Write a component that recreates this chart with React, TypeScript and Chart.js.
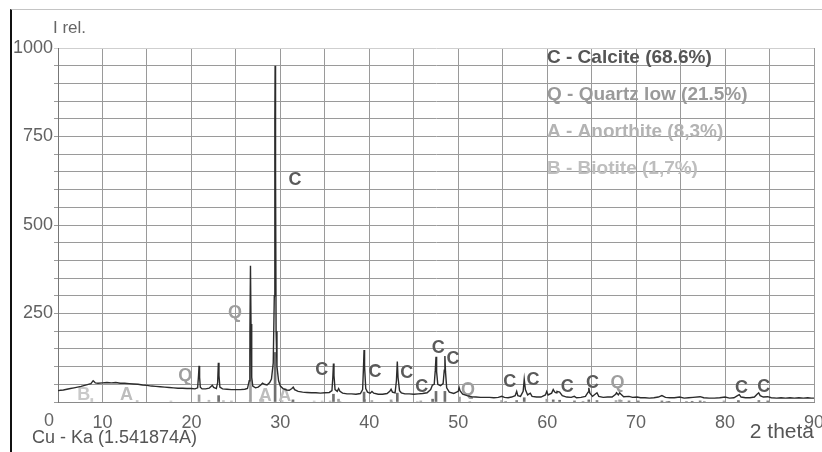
import React, { useEffect, useRef } from "react";
import { Chart, registerables } from "chart.js";

Chart.register(...registerables);

// Measured diffractogram: [2 theta, I rel.]
const pattern: [number, number][] = [
  [5.0, 32], [5.3, 33], [5.6, 34], [6.0, 36], [6.4, 38], [6.8, 40], [7.2, 42], [7.6, 44], [8.0, 47],
  [8.4, 50], [8.7, 52], [8.85, 57], [8.95, 60], [9.05, 58], [9.2, 54], [9.5, 53], [10.0, 54], [10.5, 55],
  [11.0, 54], [11.5, 55], [12.0, 53], [12.5, 53], [13.0, 52], [13.5, 51], [14.0, 50], [14.5, 48], [15.0, 47],
  [15.5, 45], [16.0, 44], [16.5, 43], [17.0, 42], [17.5, 41], [18.0, 40], [18.5, 39], [19.0, 39], [19.5, 38],
  [20.0, 38], [20.4, 37], [20.7, 40], [20.8, 75], [20.86, 102], [20.92, 70], [21.0, 42], [21.2, 37], [21.6, 37],
  [22.0, 39], [22.2, 44], [22.35, 47], [22.5, 41], [22.8, 38], [22.95, 55], [23.03, 111], [23.1, 75], [23.2, 42],
  [23.5, 37], [24.0, 36], [24.5, 35], [25.0, 35], [25.5, 35], [26.0, 36], [26.3, 38], [26.5, 60], [26.58, 200],
  [26.64, 385], [26.7, 220], [26.78, 70], [26.9, 45], [27.2, 40], [27.5, 42], [27.8, 48], [28.0, 53], [28.2, 50],
  [28.5, 48], [28.8, 55], [29.0, 65], [29.2, 110], [29.32, 300], [29.38, 800], [29.41, 950], [29.46, 650],
  [29.52, 200], [29.62, 100], [29.8, 60], [30.0, 45], [30.3, 38], [30.7, 34], [31.0, 33], [31.3, 38], [31.45, 42],
  [31.6, 35], [32.0, 30], [32.5, 28], [33.0, 27], [33.5, 26], [34.0, 26], [34.5, 25], [35.0, 26], [35.5, 27],
  [35.8, 32], [35.9, 70], [35.97, 109], [36.03, 75], [36.15, 35], [36.4, 30], [36.55, 38], [36.7, 30], [37.0, 25],
  [37.5, 23], [38.0, 23], [38.5, 22], [39.0, 24], [39.25, 35], [39.35, 100], [39.41, 147], [39.47, 100], [39.6, 38],
  [39.8, 28], [40.1, 25], [40.3, 30], [40.5, 25], [41.0, 22], [41.5, 22], [42.0, 24], [42.3, 30], [42.45, 36],
  [42.6, 28], [42.9, 26], [43.05, 60], [43.15, 114], [43.23, 70], [43.4, 32], [43.6, 26], [44.0, 23], [44.5, 23],
  [45.0, 22], [45.5, 23], [46.0, 24], [46.5, 26], [46.9, 35], [47.1, 48], [47.3, 50], [47.42, 90], [47.5, 128],
  [47.57, 85], [47.7, 50], [48.0, 46], [48.3, 52], [48.43, 90], [48.5, 130], [48.57, 85], [48.7, 40], [49.0, 28],
  [49.5, 24], [50.0, 30], [50.1, 41], [50.2, 32], [50.5, 22], [51.0, 18], [51.5, 15], [52.0, 14], [52.5, 13],
  [53.0, 13], [53.5, 13], [54.0, 12], [54.5, 13], [54.9, 16], [55.2, 13], [55.6, 12], [56.0, 14], [56.4, 18],
  [56.57, 30], [56.7, 18], [57.0, 16], [57.3, 30], [57.42, 64], [57.55, 35], [57.8, 20], [58.1, 25], [58.3, 16],
  [58.8, 14], [59.3, 14], [59.8, 20], [59.95, 30], [60.1, 20], [60.5, 25], [60.68, 35], [60.85, 28], [61.0, 26],
  [61.1, 30], [61.4, 28], [61.7, 18], [62.2, 14], [62.7, 13], [63.05, 16], [63.3, 12], [63.8, 13], [64.3, 16],
  [64.6, 28], [64.68, 40], [64.8, 25], [65.1, 16], [65.6, 26], [65.8, 16], [66.3, 13], [66.8, 14], [67.3, 14],
  [67.7, 22], [67.8, 26], [68.0, 20], [68.15, 26], [68.3, 22], [68.6, 15], [69.2, 16], [69.6, 13], [70.1, 14],
  [70.5, 12], [71.0, 12], [71.5, 11], [72.0, 12], [72.5, 14], [72.9, 18], [73.3, 13], [73.8, 12], [74.3, 12],
  [74.9, 14], [75.4, 11], [75.9, 12], [76.4, 13], [77.2, 15], [77.6, 12], [78.2, 11], [78.8, 11], [79.4, 12],
  [80.0, 14], [80.5, 11], [81.0, 12], [81.4, 18], [81.6, 21], [81.8, 14], [82.3, 12], [82.8, 12], [83.3, 14],
  [83.6, 22], [83.78, 26], [83.95, 18], [84.3, 14], [84.8, 15], [85.2, 12], [85.8, 11], [86.3, 12], [86.8, 11],
  [87.3, 12], [87.8, 11], [88.3, 12], [88.8, 11], [89.3, 12], [89.7, 11], [90.0, 11],
];

// Reference stick patterns: [2 theta, height]
const calciteSticks: [number, number][] = [
  [23.06, 18], [29.41, 140], [31.42, 6], [35.97, 22], [39.41, 28], [43.15, 25], [47.12, 8], [47.5, 30],
  [48.5, 30], [56.57, 4], [57.42, 12], [60.68, 6], [61.4, 5], [63.07, 3], [64.68, 6], [65.6, 4], [69.2, 3],
  [70.25, 3], [72.9, 3], [73.7, 2], [76.3, 2], [77.2, 3], [81.5, 4], [83.8, 4], [84.8, 3],
];
const quartzSticks: [number, number][] = [
  [20.86, 20], [26.64, 150], [36.54, 8], [39.47, 7], [40.29, 4], [42.45, 6], [45.79, 3], [50.14, 14],
  [54.87, 4], [55.33, 2], [59.96, 8], [64.03, 2], [67.74, 4], [68.14, 6], [68.32, 5], [73.47, 2], [75.66, 2],
  [77.67, 2], [79.88, 3], [81.49, 2],
];
const anorthiteSticks: [number, number][] = [
  [13.9, 4], [21.97, 5], [23.6, 4], [24.5, 3], [27.78, 8], [28.03, 8], [30.2, 4], [31.4, 3], [35.6, 3],
  [36.7, 2], [42.5, 2], [51.3, 2],
];
const biotiteSticks: [number, number][] = [
  [8.8, 10], [17.7, 3], [26.6, 5], [33.8, 3], [34.7, 3], [45.4, 2],
];

// Phase letters placed on the diffractogram
const peakLabelPhase = ["C", "Q", "Q", "B", "A", "A", "A", "C", "C", "C", "C", "C", "C", "Q", "C", "C", "C", "C", "Q", "C", "C"];
const peakLabelTheta = [31.65, 24.9, 19.3, 7.9, 12.7, 28.3, 30.5, 34.65, 40.65, 44.2, 45.9, 47.75, 49.4, 51.1, 55.8, 58.4, 62.25, 65.1, 67.9, 81.85, 84.35];
const peakLabelIntensity = [627, 252, 72, 20, 20, 18, 18, 90, 86, 81, 41, 152, 121, 34, 57, 62, 43, 53, 53, 39, 43];

const legendPhase = ["C", "Q", "A", "B"];
const legendLines = ["C - Calcite (68.6%)", "Q - Quartz low (21.5%)", "A - Anorthite (8,3%)", "B - Biotite (1,7%)"];

const xMin = 5;
const xMax = 90;
const yMax = 1000;
const xOriginLabel = "0";
const yTitle = "I rel.";
const xTitleLeft = "Cu - Ka (1.541874A)";
const xTitleRight = "2 theta";

const FONT = "'Liberation Sans', Arial, Helvetica, sans-serif";
const labelColors: Record<string, string> = { C: "#5a5a5a", Q: "#9e9e9e", A: "#bdbdbd", B: "#c9c9c9" };
const legendColors: Record<string, string> = { C: "#555555", Q: "#9a9a9a", A: "#b3b3b3", B: "#bebebe" };

const textPlugin = {
  id: "xrdText",
  beforeDatasetsDraw(chart: any) {
    const { ctx, chartArea } = chart;
    const xs = chart.scales.x;
    const ys = chart.scales.y;
    ctx.save();
    ctx.font = `bold 18px ${FONT}`;
    ctx.textAlign = "center";
    ctx.textBaseline = "middle";
    peakLabelPhase.forEach((p, i) => {
      ctx.fillStyle = labelColors[p];
      ctx.fillText(p, xs.getPixelForValue(peakLabelTheta[i]), ys.getPixelForValue(peakLabelIntensity[i]));
    });
    ctx.font = `bold 19px ${FONT}`;
    ctx.textAlign = "left";
    legendLines.forEach((t, i) => {
      ctx.fillStyle = legendColors[legendPhase[i]];
      ctx.fillText(t, chartArea.right - 267, chartArea.top + 10 + i * 37);
    });
    ctx.restore();
  },
  afterDraw(chart: any) {
    const { ctx, chartArea } = chart;
    ctx.save();
    ctx.fillStyle = "#666";
    ctx.textBaseline = "middle";
    ctx.font = `17px ${FONT}`;
    ctx.textAlign = "left";
    ctx.fillText(yTitle, chartArea.left - 5, chartArea.top - 20);
    ctx.font = `18px ${FONT}`;
    ctx.textAlign = "center";
    ctx.fillText(xOriginLabel, chartArea.left - 9, chartArea.bottom + 19);
    ctx.fillStyle = "#555";
    ctx.textAlign = "left";
    ctx.fillText(xTitleLeft, 32, chartArea.bottom + 36);
    ctx.font = `21px ${FONT}`;
    ctx.textAlign = "right";
    ctx.fillText(xTitleRight, chartArea.right, chartArea.bottom + 30);
    ctx.restore();
  },
};

const toPoints = (arr: [number, number][]) => arr.map(([x, y]) => ({ x, y }));

export default function App() {
  const ref = useRef<HTMLCanvasElement | null>(null);

  useEffect(() => {
    if (!ref.current) return;
    const stickDataset = (data: [number, number][], color: string, thickness: number, order: number) => ({
      type: "bar" as const,
      data: toPoints(data),
      backgroundColor: color,
      borderWidth: 0,
      barThickness: thickness,
      grouped: false,
      order,
    });
    const chart = new Chart(ref.current, {
      type: "line",
      data: {
        datasets: [
          {
            type: "line",
            data: toPoints(pattern),
            borderColor: "#2c2c2c",
            borderWidth: 1.4,
            pointRadius: 0,
            tension: 0,
            fill: false,
            order: 0,
          } as any,
          stickDataset(biotiteSticks, "#cccccc", 2, 4),
          stickDataset(anorthiteSticks, "#bdbdbd", 2, 3),
          stickDataset(quartzSticks, "#a0a0a0", 2, 2),
          stickDataset(calciteSticks, "#707070", 2, 1),
        ],
      },
      options: {
        responsive: false,
        animation: false,
        events: [],
        layout: { padding: { top: 48, right: 8, left: 0, bottom: 0 } },
        plugins: { legend: { display: false }, tooltip: { enabled: false } },
        scales: {
          x: {
            type: "linear",
            min: xMin,
            max: xMax,
            offset: false,
            grid: { color: "#9a9a9a", lineWidth: 1, drawTicks: false, offset: false },
            border: { color: "#8a8a8a", width: 1 },
            ticks: {
              stepSize: 5,
              autoSkip: false,
              maxRotation: 0,
              padding: 10,
              color: "#626262",
              font: { family: FONT, size: 18 },
              callback: (v: any) => (Number(v) % 10 === 0 ? String(v) : ""),
            },
            afterFit: (s: any) => {
              s.height = 50;
              s.paddingLeft = 0;
              s.paddingRight = 0;
            },
          },
          y: {
            type: "linear",
            min: 0,
            max: yMax,
            grid: {
              color: (c: any) => (c.tick && c.tick.value === yMax ? "#cfcfcf" : "#9a9a9a"),
              lineWidth: 1,
              tickLength: 4,
            },
            border: { color: "#777", width: 1 },
            ticks: {
              stepSize: 50,
              autoSkip: false,
              padding: 1,
              color: "#626262",
              font: { family: FONT, size: 18 },
              callback: (v: any) => (Number(v) % 250 === 0 && Number(v) > 0 ? String(v) : ""),
            },
            afterFit: (s: any) => {
              s.width = 58;
              s.paddingTop = 0;
              s.paddingBottom = 0;
            },
          },
        },
      },
      plugins: [textPlugin],
    } as any);
    return () => chart.destroy();
  }, []);

  return (
    <div style={{ position: "absolute", left: 0, top: 0, width: 822, height: 452, background: "#fff" }}>
      <canvas ref={ref} width={822} height={452} style={{ position: "absolute", left: 0, top: 0 }} />
      <div style={{ position: "absolute", left: 10, top: 9, width: 812, height: 443, borderLeft: "2px solid #111", borderTop: "1px solid #c4c4c4", pointerEvents: "none" }} />
    </div>
  );
}
